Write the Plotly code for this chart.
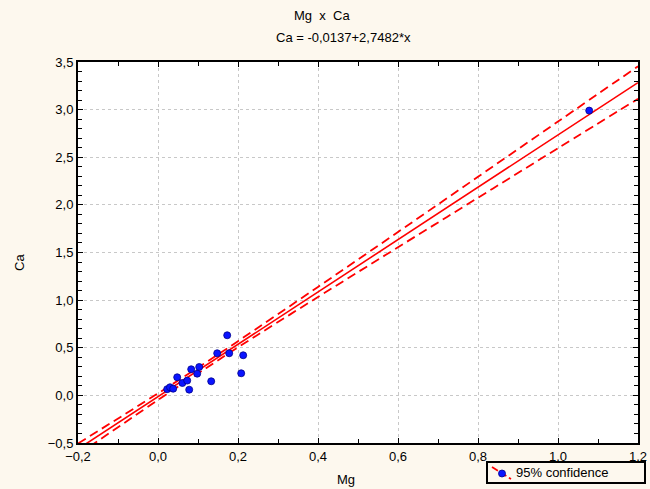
import plotly.graph_objects as go

# Data points
mg = [0.023, 0.030, 0.038, 0.048, 0.061, 0.073, 0.078, 0.083, 0.098, 0.103,
      0.133, 0.148, 0.173, 0.178, 0.208, 0.213, 1.078]
ca = [0.065, 0.085, 0.070, 0.190, 0.130, 0.155, 0.060, 0.274, 0.228, 0.298,
      0.148, 0.442, 0.631, 0.442, 0.232, 0.421, 2.990]

# Regression (from title) and 95% confidence band
intercept = -0.0137
slope = 2.7482
line_x = [-0.2, 1.2]
band_x = [-0.2, 0.0, 0.12, 0.2, 0.4, 0.6, 0.8, 1.0, 1.2]
band_upper = [-0.505, 0.021, 0.346, 0.569, 1.139, 1.715, 2.295, 2.875, 3.455]
band_lower = [-0.621, -0.049, 0.286, 0.504, 1.033, 1.555, 2.075, 2.595, 3.113]
legend_label = "95% confidence"

line_y = [intercept + slope * v for v in line_x]

FONT = "Liberation Sans, Arial, sans-serif"
RED = "#ff0000"
BLUE = "#0a14ff"
BG = "#fdf8ee"
L, R, T, B = 78, 638, 62, 443   # plot area in pixels
PW, PH = R - L, B - T


def px(xp):
    return (xp - L) / PW


def py(yp):
    return (B - yp) / PH


fig = go.Figure()
fig.add_trace(go.Scatter(x=band_x, y=band_upper, mode="lines", showlegend=False,
                         line=dict(color=RED, width=1.8, dash="9px,5px", shape="spline")))
fig.add_trace(go.Scatter(x=band_x, y=band_lower, mode="lines", showlegend=False,
                         line=dict(color=RED, width=1.8, dash="9px,5px", shape="spline")))
fig.add_trace(go.Scatter(x=line_x, y=line_y, mode="lines", showlegend=False,
                         line=dict(color=RED, width=1.6)))
fig.add_trace(go.Scatter(x=mg, y=ca, mode="markers", showlegend=False,
                         marker=dict(color=BLUE, size=7,
                                     line=dict(color="#00008b", width=0.8))))

axis_common = dict(
    showline=True, linecolor="black", linewidth=2, mirror="ticks",
    ticks="inside", ticklen=5, tickcolor="black", tickwidth=1,
    showgrid=True, gridcolor="#c8c8c8", griddash="dot", gridwidth=1,
    zeroline=False, tickformat=".1f", automargin=False,
    tickfont=dict(family=FONT, size=13, color="black"),
)

fig.update_xaxes(range=[-0.2, 1.2], dtick=0.2, tick0=0,
                 minor=dict(dtick=0.1, ticks="inside", ticklen=4, tickcolor="black", showgrid=False),
                 **axis_common)
fig.update_yaxes(range=[-0.5, 3.5], dtick=0.5, tick0=0,
                 minor=dict(dtick=0.1, ticks="inside", ticklen=4, tickcolor="black", showgrid=False),
                 **axis_common)

txt = dict(family=FONT, size=13, color="black")
fig.add_annotation(text="Mg  x  Ca", xref="paper", yref="paper",
                   x=px(322), y=py(15), xanchor="center", yanchor="middle",
                   showarrow=False, font=txt)
fig.add_annotation(text="Ca = -0,0137+2,7482*x", xref="paper", yref="paper",
                   x=px(343), y=py(38), xanchor="center", yanchor="middle",
                   showarrow=False, font=txt)
fig.add_annotation(text="Mg", xref="paper", yref="paper",
                   x=px(346), y=py(479), xanchor="center", yanchor="middle",
                   showarrow=False, font=txt)
fig.add_annotation(text="Ca", xref="paper", yref="paper", textangle=-90,
                   x=px(19), y=py(263), xanchor="center", yanchor="middle",
                   showarrow=False, font=txt)

# Legend box drawn by hand (so it does not shrink the plot area)
fig.add_shape(type="rect", xref="paper", yref="paper",
              x0=px(487), x1=px(645), y0=py(483), y1=py(462),
              line=dict(color="black", width=2), fillcolor=BG, layer="above")
fig.add_shape(type="line", xref="paper", yref="paper",
              x0=px(492), y0=py(467), x1=px(511), y1=py(479),
              line=dict(color=RED, width=1.7, dash="7px,3px"), layer="above")
fig.add_shape(type="circle", xref="paper", yref="paper",
              xsizemode="pixel", ysizemode="pixel",
              xanchor=px(502), yanchor=py(473.5),
              x0=-3.5, x1=3.5, y0=-3.5, y1=3.5,
              line=dict(color="#00008b", width=0.8), fillcolor=BLUE, layer="above")
fig.add_annotation(text=legend_label, xref="paper", yref="paper",
                   x=px(514), y=py(472.5), xanchor="left", yanchor="middle",
                   showarrow=False, font=txt)

fig.update_layout(
    width=650, height=489,
    margin=dict(l=L, r=650 - R, t=T, b=489 - B, autoexpand=False),
    paper_bgcolor=BG, plot_bgcolor="white",
    separators=", ",
    showlegend=False,
    font=txt,
)

fig.write_html("out.html")
